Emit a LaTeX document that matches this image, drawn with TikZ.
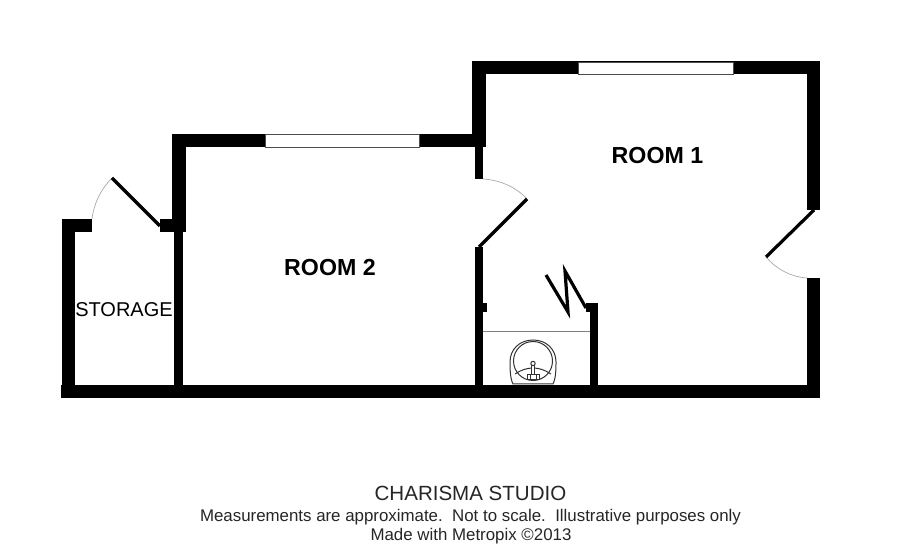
\documentclass[tikz,border=0pt]{standalone}
\usepackage{fontspec}
\setmainfont{Liberation Sans}
\tikzset{
  wall/.style={fill=black,draw=none},
  winframe/.style={fill=white,draw=black!70,line width=0.7pt},
  leaf/.style={draw=black,line width=2.4pt},
  swing/.style={draw=black!35,line width=0.5pt},
  fix/.style={draw=black!80,line width=0.75pt,fill=white},
  roomlabel/.style={font=\fontsize{17.4}{20}\selectfont\bfseries,inner sep=0pt,anchor=center},
  foot/.style={inner sep=0pt,anchor=center,text=black!85}
}
\begin{document}
\begin{tikzpicture}[x=0.75pt,y=-0.75pt]
\useasboundingbox (0,0) rectangle (900,548);
\fill[white] (0,0) rectangle (900,548);
% bottom wall
\fill[wall] (61,385) rectangle (820,398);
% storage
\fill[wall] (62,219) rectangle (92,232);
\fill[wall] (62,219) rectangle (75,385);
\fill[wall] (160,219) rectangle (186,232);
\fill[wall] (174,232) rectangle (183,385);
% room 2
\fill[wall] (172,134) rectangle (186,232);
\fill[wall] (172,134) rectangle (486,147);
% room 1
\fill[wall] (472,61) rectangle (820,74);
\fill[wall] (472,61) rectangle (486,147);
\fill[wall] (475,147) rectangle (483,179);
\fill[wall] (475,247) rectangle (483,385);
\fill[wall] (483,303) rectangle (487,312);
\fill[wall] (807,61) rectangle (820,210);
\fill[wall] (807,278) rectangle (820,398);
% closet
\fill[wall] (586,303) rectangle (598,312);
\fill[wall] (590,303) rectangle (598,385);
% windows
\draw[winframe] (265,134) rectangle (419,147);
\draw[winframe] (578,62) rectangle (733,74);
% doors
\coordinate (s1) at (92,219); \coordinate (s2) at (112,178); \coordinate (s3) at (160,226);
\draw[swing] (s1) .. controls (94,203) and (101,189) .. (s2);
\draw[leaf] (s2) -- (s3);
\coordinate (m1) at (483,179); \coordinate (m2) at (527,199); \coordinate (m3) at (479,247);
\draw[swing] (m1) .. controls (500,180) and (516,187) .. (m2);
\draw[leaf] (m2) -- (m3);
\coordinate (r1) at (814,210); \coordinate (r2) at (766,257); \coordinate (r3) at (807,278);
\draw[swing] (r2) .. controls (776,269) and (791,277) .. (r3);
\draw[leaf] (r1) -- (r2);
% zigzag
\draw[draw=black,line width=2.4pt,miter limit=20] (546,275) -- (568,312) -- (565,271) -- (586,308);
% fixture
\draw[draw=black!50,line width=0.7pt] (483,331) -- (590,331);
\draw[fix] (513,384) .. controls (510,378) and (510,368) .. (510,362) .. controls (510,349) and (520,340) .. (533,340) .. controls (546,340) and (556,349) .. (556,362) .. controls (556,368) and (556,378) .. (553,384) -- cycle;
\draw[fix] (533,361) circle (19.5);
\draw[draw=black!80,line width=0.75pt] (515,374) .. controls (521,370) and (527,368) .. (533,368) .. controls (539,368) and (545,370) .. (551,374);
\draw[fix] (531.5,365) rectangle (534.5,376);
\draw[fix] (533,363.5) circle (2.2);
\draw[fix] (527,375) rectangle (539,380);
\draw[draw=black!80,line width=0.5pt] (530,375) -- (530,380) (536,375) -- (536,380);
% labels
\node[roomlabel] (r1lab) at (657.5,155.5) {ROOM 1};
\node[roomlabel] (r2lab) at (330,268) {ROOM 2};
\node[inner sep=0pt,font=\fontsize{15}{18}\selectfont] (stlab) at (124,309.5) {STORAGE};
\node[foot,font=\fontsize{15.4}{18}\selectfont] (f1) at (470.5,493) {CHARISMA STUDIO};
\node[foot,font=\fontsize{12.65}{15}\selectfont] (f2) at (470.5,517) {Measurements are approximate.\ \ Not to scale.\ \ Illustrative purposes only};
\node[foot,font=\fontsize{12.65}{15}\selectfont] (f3) at (471,536) {Made with Metropix ©2013};
\end{tikzpicture}
\end{document}
